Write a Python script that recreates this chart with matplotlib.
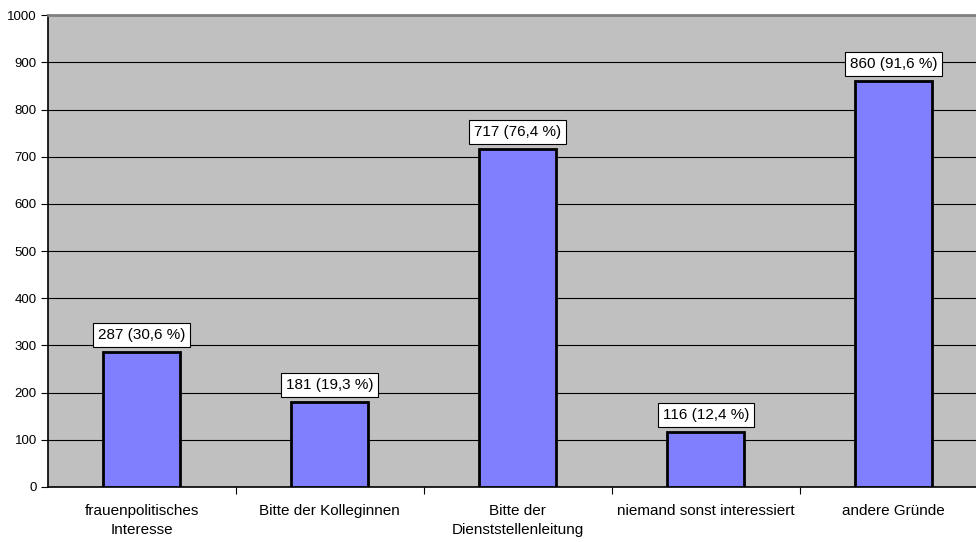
import matplotlib.pyplot as plt

categories = ["frauenpolitisches\nInteresse", "Bitte der Kolleginnen",
              "Bitte der\nDienststellenleitung", "niemand sonst interessiert",
              "andere Gründe"]
values = [287, 181, 717, 116, 860]
percents = ["30,6", "19,3", "76,4", "12,4", "91,6"]
yticks = list(range(0, 1001, 100))

plt.rcParams['font.family'] = ['Liberation Sans', 'DejaVu Sans']

fig = plt.figure(figsize=(9.76, 5.42), dpi=100)
# plot area runs a little past the right edge of the image, as in the original
ax = fig.add_axes([0.049, 0.1015, 0.963, 0.8705])
ax.set_facecolor('#C0C0C0')

x = range(len(categories))
ax.bar(x, values, width=0.41, color='#8080FF', edgecolor='black', linewidth=2, zorder=3)

for xi, v, p in zip(x, values, percents):
    ax.text(xi, v + 21, f"{v} ({p} %)", ha='center', va='bottom', fontsize=11,
            bbox=dict(facecolor='white', edgecolor='black', linewidth=0.8, pad=3.5),
            zorder=4)

ax.set_xlim(-0.5, len(categories) - 0.5)
ax.set_ylim(0, 1000)
ax.set_yticks(yticks)
ax.set_yticklabels([str(t) for t in yticks], fontsize=9.5)
ax.yaxis.grid(True, color='black', linewidth=0.8, zorder=0)
ax.set_axisbelow(True)

ax.set_xticks([i + 0.5 for i in range(len(categories) - 1)], minor=False)
ax.set_xticklabels([])
ax.set_xticks(list(x), minor=True)
ax.set_xticklabels(categories, minor=True, fontsize=11, linespacing=1.5)
ax.tick_params(axis='x', which='minor', length=0, pad=12)
ax.tick_params(axis='x', which='major', length=5, direction='out')
ax.tick_params(axis='y', length=5, direction='out', pad=3)

ax.spines['top'].set_color('#808080')
ax.spines['top'].set_linewidth(2)
ax.spines['right'].set_color('#808080')
ax.spines['left'].set_linewidth(1.2)
ax.spines['bottom'].set_linewidth(1.2)

fig.savefig('out.png', dpi=100)
